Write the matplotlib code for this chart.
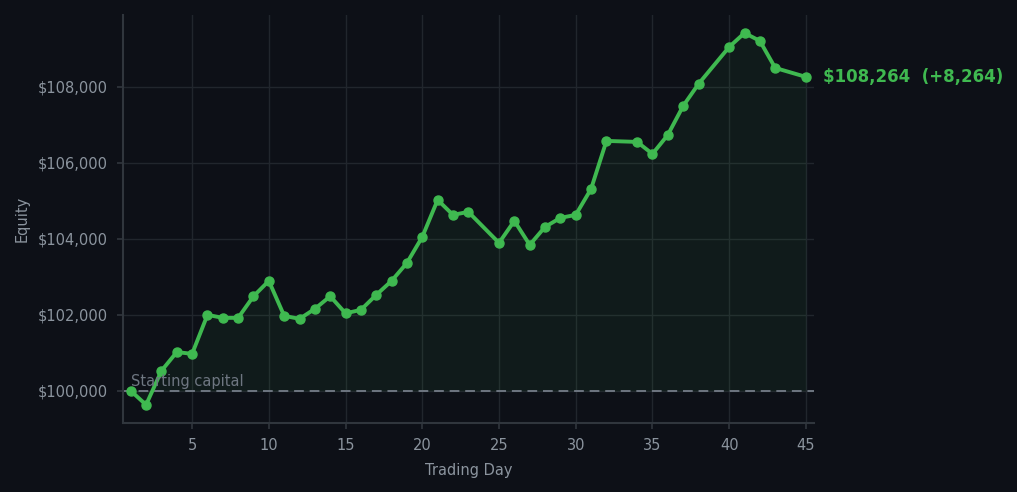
import matplotlib.pyplot as plt
from matplotlib.ticker import FuncFormatter

days = [1, 2, 3, 4, 5, 6, 7, 8, 9, 10, 11, 12, 13, 14, 15, 16, 17, 18, 19, 20,
        21, 22, 23, 25, 26, 27, 28, 29, 30, 31, 32, 34, 35, 36, 37, 38, 40, 41,
        42, 43, 45]
equity = [100000, 99632, 100526, 101020, 100974, 102000, 101921, 101921, 102490,
          102895, 101974, 101895, 102158, 102490, 102040, 102132, 102526, 102895,
          103368, 104053, 105026, 104632, 104711, 103895, 104474, 103842, 104316,
          104553, 104632, 105316, 106579, 106553, 106237, 106737, 107500, 108079,
          109053, 109421, 109211, 108500, 108264]
start_capital = 100000

bg = "#0d1017"
green = "#3fb950"
muted = "#8b949e"

fig = plt.figure(figsize=(10.17, 4.92), dpi=100, facecolor=bg)
ax = fig.add_axes([0.121, 0.140, 0.679, 0.830], facecolor=bg)

ax.fill_between(days, equity, start_capital, color=green, alpha=0.07, linewidth=0)
ax.plot(days, equity, color=green, linewidth=2.8, marker="o", markersize=6.5, zorder=3)
ax.axhline(start_capital, color="#6e7681", linestyle="--", linewidth=1.4, dashes=(5, 3), zorder=2)
ax.text(1.0, start_capital + 40, "Starting capital", color="#6e7681", fontsize=10.5,
        va="bottom", ha="left")

final = equity[-1]
ax.annotate(f"${final:,.0f}  (+{final - start_capital:,.0f})", xy=(days[-1], final),
            xytext=(12, 0), textcoords="offset points", color=green, fontsize=12,
            fontweight="bold", va="center", ha="left", annotation_clip=False)

ax.set_xlim(0.5, 45.5)
ax.set_ylim(99150, 109900)
ax.set_xticks([5, 10, 15, 20, 25, 30, 35, 40, 45])
ax.set_yticks([100000, 102000, 104000, 106000, 108000])
ax.yaxis.set_major_formatter(FuncFormatter(lambda v, p: f"${v:,.0f}"))

ax.grid(True, color="#21262d", linewidth=1)
ax.set_axisbelow(True)
for s in ["top", "right"]:
    ax.spines[s].set_visible(False)
for s in ["left", "bottom"]:
    ax.spines[s].set_color("#30363d")
    ax.spines[s].set_linewidth(1.5)
ax.tick_params(colors=muted, labelsize=10.5, length=4, width=1.2, pad=7)
ax.tick_params(axis="both", color="#30363d")
ax.set_xlabel("Trading Day", color=muted, fontsize=10.5, labelpad=7)
ax.set_ylabel("Equity", color=muted, fontsize=10.5, labelpad=6)

fig.savefig("out.png", facecolor=bg)
